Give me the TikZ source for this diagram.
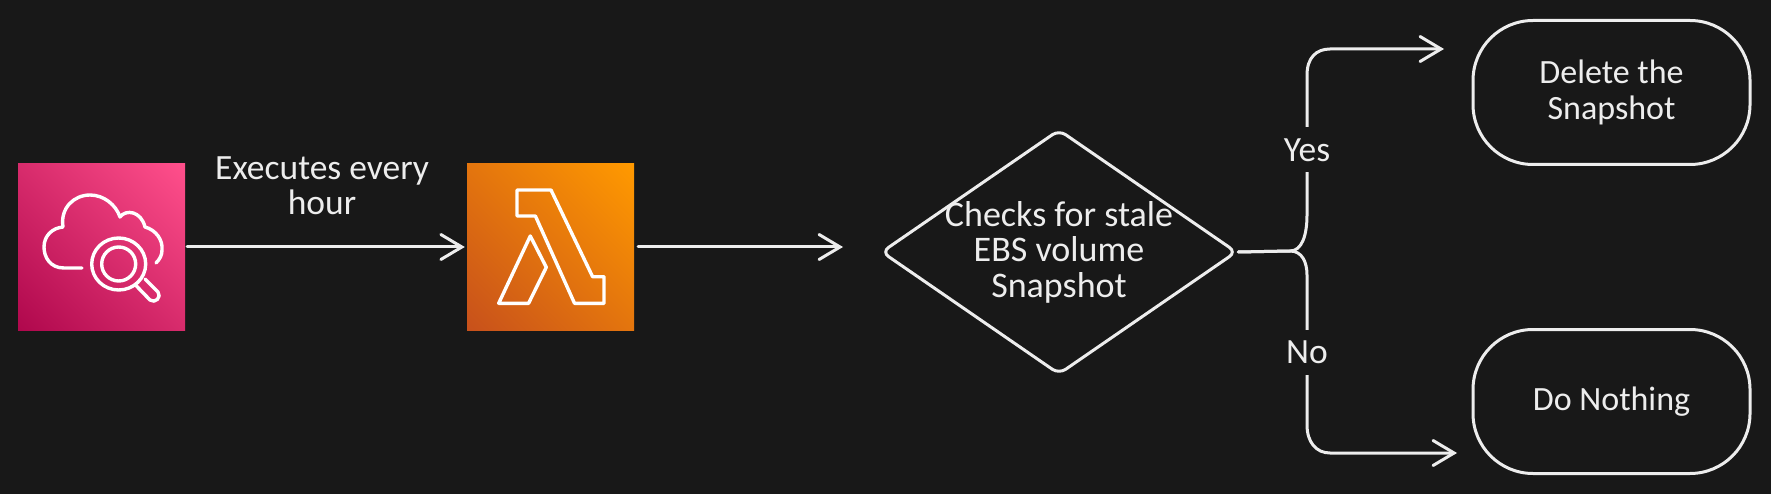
\documentclass[tikz,border=0pt]{standalone}
\usepackage{fontspec}
\setmainfont{Carlito}
\usetikzlibrary{arrows.meta,shapes.geometric}

\definecolor{canvasbg}{HTML}{181818}
\definecolor{inkwhite}{HTML}{EDEDED}
\definecolor{pinklow}{HTML}{B0084D}
\definecolor{pinkhigh}{HTML}{FF4F8B}
\definecolor{orangelow}{HTML}{C8511B}
\definecolor{orangehigh}{HTML}{FF9900}

\pgfdeclareverticalshading{pinkfade}{100bp}{color(0bp)=(pinklow); color(15bp)=(pinklow); color(85bp)=(pinkhigh); color(100bp)=(pinkhigh)}
\pgfdeclareverticalshading{orangefade}{100bp}{color(0bp)=(orangelow); color(15bp)=(orangelow); color(85bp)=(orangehigh); color(100bp)=(orangehigh)}

\tikzset{
  iconbox/.style={minimum width=167pt,minimum height=166pt,inner sep=0pt,
    shade,shading=#1fade,shading angle=-45},
  iconline/.style={draw=white,line width=3.4pt,line join=round,line cap=round},
  flow/.style={draw=inkwhite,line width=3pt,line cap=round,
    -{Straight Barb[length=21pt,width=25pt,line cap=round]}},
  endbox/.style={draw=inkwhite,line width=3pt,rounded corners=60pt,
    minimum width=277pt,minimum height=144pt,text=inkwhite,align=center},
  decisionbox/.style={diamond,draw=inkwhite,line width=3pt,rounded corners=8pt,aspect=1.47,
    minimum width=355.5pt,minimum height=245pt,inner sep=-18pt,text=inkwhite,align=center,
    font=\fontsize{36}{35.5}\selectfont},
  flowlabel/.style={fill=canvasbg,text=inkwhite,inner xsep=3pt,minimum height=45pt,align=center,
    font=\fontsize{35.5}{35.5}\selectfont}
}

\begin{document}
\begin{tikzpicture}[x=1pt,y=-1pt,font=\fontsize{34}{35.5}\selectfont]

  \fill[canvasbg] (0,0) rectangle (1771,494);

  \node[iconbox=pink] (watch) at (101.5,247) {};
  \node[iconbox=orange] (lambda) at (550.5,247) {};

  % cloud and magnifier
  \draw[iconline] (82,268) -- (64,268) .. controls (50,268) and (44,257) .. (44,247)
    .. controls (44,236) and (52,228) .. (63,227) .. controls (60,208) and (74,195) .. (90,195)
    .. controls (104,195) and (116,205) .. (120,217) .. controls (126,209) and (141,211) .. (145,227)
    .. controls (156,230) and (163,240) .. (162,250) .. controls (162,255) and (160,259) .. (156,263);
  \draw[iconline] (118.7,264) ellipse [x radius=27,y radius=26];
  \draw[iconline] (118.7,264) ellipse [x radius=17,y radius=17];
  \draw[iconline] (135.5,285) -- (150,300) .. controls (155,304) and (162,297) .. (158,292) -- (145,279);

  % lambda
  \draw[iconline] (517,190) -- (551,190) -- (592.6,276.7) -- (604,276.7) -- (604,303.3)
    -- (574.5,303.3) -- (535.4,216) -- (517,216) -- cycle;
  \draw[iconline] (530.3,236) -- (546.3,267.3) -- (528.6,303.3) -- (498.7,303.3) -- cycle;

  \node[decisionbox] (check) at (1059,252) {Checks for stale\\EBS volume\\Snapshot};
  \node[endbox] (delete) at (1611.5,92.5) {Delete the\\Snapshot};
  \node[endbox] (nothing) at (1611.5,401.5) {Do Nothing};

  \coordinate (checkin) at (843,247);
  \coordinate (yesend) at (1444,49);
  \coordinate (noend) at (1457,453);

  \draw[flow,shorten <=2pt,shorten >=2pt] (watch.east) -- (lambda.west);
  \draw[flow,shorten <=4pt] (lambda.east) -- (checkin);
  \draw[flow] (check.east) -- (1290,251) .. controls (1302,251) and (1307,235) .. (1307,215)
    -- (1307,75) .. controls (1307,58) and (1316,49) .. (1330,49) -- (yesend);
  \draw[flow] (check.east) -- (1290,251) .. controls (1302,251) and (1307,262) .. (1307,275)
    -- (1307,425) .. controls (1307,442) and (1316,453) .. (1330,453) -- (noend);

  \node[flowlabel] (executes) at (322,185.5) {Executes every\\hour};
  \node[flowlabel] (yes) at (1307,150) {Yes};
  \node[flowlabel] (no) at (1307,352.5) {No};

\end{tikzpicture}
\end{document}
